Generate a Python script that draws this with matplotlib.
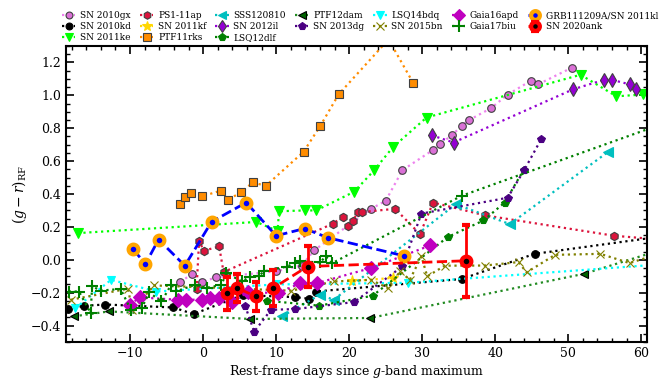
import matplotlib
matplotlib.use("Agg")
import matplotlib.pyplot as plt
from matplotlib.ticker import MultipleLocator

plt.rcParams['font.family'] = ['DejaVu Serif']
plt.rcParams['mathtext.fontset'] = 'dejavuserif'

# ---- data (rest-frame days, g-r colour) ----
sn2010gx_t = [-3.1, -1.5, -0.1, 1.75, 10.0, 13.5, 15.2, 23.0, 25.0, 27.3, 31.5, 32.5, 34.1, 35.4, 36.4, 39.4, 41.7, 44.9, 45.9, 50.5]
sn2010gx_c = [-0.135, -0.085, -0.135, -0.107, -0.07, -0.035, 0.057, 0.31, 0.358, 0.545, 0.668, 0.707, 0.757, 0.816, 0.849, 0.921, 1.004, 1.089, 1.067, 1.168]

sn2010kd_t = [-18.5, -16.3, -13.4, -4.1, -1.3, 5.4, 12.6, 14.5, 15.4, 35.4, 45.4, 62.5]
sn2010kd_c = [-0.30, -0.28, -0.272, -0.29, -0.33, -0.215, -0.227, -0.237, -0.193, -0.117, 0.036, 0.14]

sn2011ke_t = [-17.2, 7.3, 10.2, 10.4, 13.9, 15.5, 20.7, 23.4, 26.0, 30.6, 51.7, 56.6, 60.3]
sn2011ke_c = [0.162, 0.23, 0.175, 0.295, 0.30, 0.30, 0.414, 0.543, 0.685, 0.865, 1.125, 0.994, 1.005]

ps111ap_t = [-0.9, -0.55, 0.1, 2.2, 2.8, 17.8, 19.1, 19.8, 20.5, 21.2, 21.8, 26.3, 29.7, 31.5, 38.6, 56.3, 62.0]
ps111ap_c = [-0.178, 0.115, 0.055, 0.081, -0.075, 0.22, 0.261, 0.208, 0.233, 0.292, 0.29, 0.31, 0.156, 0.348, 0.27, 0.146, 0.125]

sn2011kf_t = [20.4, 26.0]
sn2011kf_c = [-0.13, -0.11]

ptf11rks_t = [-3.1, -2.5, -1.6, -0.2, 2.4, 3.4, 5.2, 6.8, 8.6, 13.75, 16.05, 18.6, 25.4, 28.8]
ptf11rks_c = [0.34, 0.38, 0.405, 0.385, 0.42, 0.365, 0.41, 0.47, 0.45, 0.656, 0.814, 1.008, 1.34, 1.073]

sss120810_t = [10.8, 16.0, 17.9, 34.6, 42.0, 55.4]
sss120810_c = [-0.344, -0.213, -0.243, 0.338, 0.217, 0.654]

sn2012il_t = [31.3, 34.3, 50.7, 54.9, 56.0, 58.4, 59.3]
sn2012il_c = [0.757, 0.713, 1.037, 1.094, 1.094, 1.067, 1.037]

lsq12dlf_t = [8.7, 15.9, 23.2, 33.5, 38.4, 41.3, 43.9]
lsq12dlf_c = [-0.249, -0.279, -0.219, 0.138, 0.239, 0.348, 0.547]

ptf12dam_t = [-17.7, -12.9, 6.4, 22.9, 52.2, 62.0]
ptf12dam_c = [-0.344, -0.314, -0.36, -0.354, -0.085, 0.05]

sn2013dg_t = [5.75, 7.0, 9.3, 12.6, 20.7, 27.3, 29.9, 41.7, 44.0, 46.3]
sn2013dg_c = [-0.28, -0.437, -0.304, -0.30, -0.257, -0.04, 0.281, 0.377, 0.547, 0.733]

lsq14bdq_t = [-17.5, -12.6, -6.4, 10.0, 28.0, 62.0]
lsq14bdq_c = [-0.294, -0.122, -0.193, -0.15, -0.14, -0.03]

sn2015bn_t = [-18.1, -10.3, -9.7, -6.7, 12.1, 17.9, 23.0, 25.3, 27.0, 28.3, 29.9, 30.7, 33.1, 38.6, 43.2, 44.3, 48.2, 54.4, 58.4, 62.0]
sn2015bn_c = [-0.243, -0.176, -0.304, -0.156, -0.188, -0.132, -0.122, -0.172, -0.071, -0.122, 0.02, -0.101, -0.036, -0.035, -0.014, -0.077, 0.03, 0.036, -0.02, 0.03]

gaia16apd_t = [-10.0, -8.7, -3.4, -2.4, -0.1, 1.0, 2.2, 4.0, 6.1, 10.3, 13.3, 15.6, 23.0, 31.1]
gaia16apd_c = [-0.273, -0.229, -0.243, -0.243, -0.243, -0.235, -0.235, -0.259, -0.196, -0.203, -0.142, -0.142, -0.05, 0.087]

gaia17biu_t = [-18.4, -17.0, -15.4, -15.2, -14.0, -11.3, -9.9, -8.4, -7.4, -5.7, -4.4, -3.7, -1.1, 0.5, 2.5, 3.2, 5.3, 6.4, 7.7, 8.3, 11.5, 12.6, 13.3, 16.0, 16.8, 17.7, 35.4, 62.5]
gaia17biu_c = [-0.193, -0.193, -0.324, -0.162, -0.187, -0.178, -0.304, -0.294, -0.199, -0.253, -0.154, -0.192, -0.152, -0.172, -0.152, -0.081, -0.132, -0.105, -0.097, -0.071, -0.041, -0.02, -0.01, -0.016, 0.02, -0.02, 0.389, 0.82]

grb_t = [-9.56, -7.9, -6.1, -2.5, 1.16, 5.9, 10.0, 13.9, 17.1, 27.5]
grb_c = [0.063, -0.026, 0.123, -0.036, 0.231, 0.348, 0.146, 0.19, 0.134, 0.024]

sn2020ank_t = [3.3, 4.7, 7.2, 9.6, 14.3, 36.0]
sn2020ank_c = [-0.203, -0.172, -0.223, -0.172, -0.041, -0.006]
sn2020ank_e = [0.10, 0.085, 0.087, 0.107, 0.125, 0.22]

fig = plt.figure(figsize=(6.65, 3.8), dpi=100)
ax = fig.add_axes([0.099, 0.100, 0.874, 0.779])

def dot(t, c, label, marker, mfc, lc, ms=5.5, mec='0.25', mew=0.8, ls=':', lw=1.6):
    ax.plot(t, c, ls=ls, color=lc, lw=lw, marker=marker, ms=ms, mfc=mfc, mec=mec, mew=mew, label=label)

dot(sn2010gx_t, sn2010gx_c, 'SN 2010gx', 'o', 'orchid', 'violet')
dot(sn2010kd_t, sn2010kd_c, 'SN 2010kd', 'o', 'black', 'black', mec='black')
dot(sn2011ke_t, sn2011ke_c, 'SN 2011ke', 'v', 'lime', 'lime', ms=7, mec='lime')
dot(ps111ap_t, ps111ap_c, 'PS1-11ap', 'h', 'crimson', 'crimson', ms=6)
dot(sn2011kf_t, sn2011kf_c, 'SN 2011kf', '*', 'gold', 'gold', ms=8, mec='gold')
dot(ptf11rks_t, ptf11rks_c, 'PTF11rks', 's', 'darkorange', 'darkorange', ms=6)
dot(sss120810_t, sss120810_c, 'SSS120810', '<', 'c', 'c', ms=7, mec='c')
dot(sn2012il_t, sn2012il_c, 'SN 2012il', 'd', 'darkviolet', 'darkviolet', ms=7)
dot(lsq12dlf_t, lsq12dlf_c, 'LSQ12dlf', 'p', 'green', 'green', ms=6, mec='green')
dot(ptf12dam_t, ptf12dam_c, 'PTF12dam', '<', 'darkgreen', 'forestgreen', ms=6, mec='black')
dot(sn2013dg_t, sn2013dg_c, 'SN 2013dg', 'p', 'indigo', 'indigo', ms=6, mec='indigo')
dot(lsq14bdq_t, lsq14bdq_c, 'LSQ14bdq', 'v', 'cyan', 'cyan', ms=6, mec='cyan')
dot(sn2015bn_t, sn2015bn_c, 'SN 2015bn', 'x', 'olive', 'olive', ms=6, mec='olive')
dot(gaia16apd_t, gaia16apd_c, 'Gaia16apd', 'D', 'm', 'm', ms=7, mec='m')
dot(gaia17biu_t, gaia17biu_c, 'Gaia17biu', '+', 'green', 'green', ms=9, mec='green', mew=1.5)
ax.plot(grb_t, grb_c, ls='--', color='blue', lw=2, marker='o', ms=7, mfc='blue', mec='orange', mew=3,
        label='GRB111209A/SN 2011kl')
ax.errorbar(sn2020ank_t, sn2020ank_c, yerr=sn2020ank_e, ls='--', color='red', lw=2, marker='o', ms=7,
            mfc='black', mec='red', mew=3, ecolor='red', elinewidth=2, capsize=3, capthick=2,
            label='SN 2020ank', zorder=5)

ax.set_xlim(-18.8, 60.8)
ax.set_ylim(-0.5, 1.3)
ax.xaxis.set_major_locator(MultipleLocator(10))
ax.xaxis.set_minor_locator(MultipleLocator(2))
ax.yaxis.set_major_locator(MultipleLocator(0.2))
ax.yaxis.set_minor_locator(MultipleLocator(0.05))
ax.tick_params(which='both', direction='in', top=True, right=True, labelsize=9)
ax.tick_params(which='major', length=6, width=1.2)
ax.tick_params(which='minor', length=3, width=1)
for s in ax.spines.values():
    s.set_linewidth(1.5)
ax.set_xlabel('Rest-frame days since $g$-band maximum', fontsize=9, labelpad=2)
ax.set_ylabel(r'$(g-r)_{\rm RF}$', fontsize=10, labelpad=1)

h, l = ax.get_legend_handles_labels()
fig.legend(h, l, loc='upper left', bbox_to_anchor=(0.085, 0.984), ncol=7, frameon=False, fontsize=6.5,
           handlelength=1.5, handletextpad=0.5, columnspacing=1.0, labelspacing=0.2, borderaxespad=0.2,
           markerscale=0.9)

fig.savefig('out.png', dpi=100)
